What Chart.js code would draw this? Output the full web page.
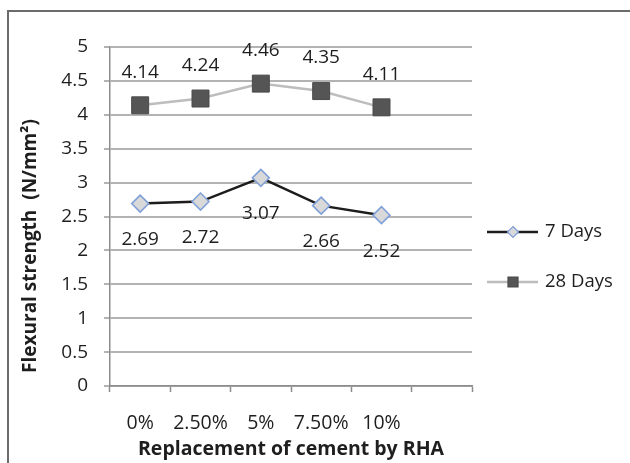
<!DOCTYPE html>
<html>
<head>
<meta charset="utf-8">
<script src="https://cdn.jsdelivr.net/npm/chart.js@4/dist/chart.umd.min.js"></script>
<style>
  html, body { margin: 0; padding: 0; background: #fff; }
  #c { display: block; }
</style>
</head>
<body>
<canvas id="c" width="630" height="463"></canvas>
<script>
// Flexural strength of concrete vs. RHA replacement level
const categories = ['0%', '2.50%', '5%', '7.50%', '10%', ''];
const days7 = [2.69, 2.72, 3.07, 2.66, 2.52, null];
const days28 = [4.14, 4.24, 4.46, 4.35, 4.11, null];
const seriesNames = ['7 Days', '28 Days'];
const yMin = 0, yMax = 5, yStep = 0.5;
const xTitle = 'Replacement of cement by RHA';
const yTitle = 'Flexural strength  (N/mm\u00B2)';

const FONT = '"Open Sans", Lato, sans-serif';
const TEXT = '#1e1e1e';

const extras = {
  id: 'extras',
  beforeDraw(chart) {
    const ctx = chart.ctx;
    ctx.save();
    ctx.fillStyle = '#fff';
    ctx.fillRect(0, 0, chart.width, chart.height);
    ctx.restore();
  },
  afterDatasetsDraw(chart) {
    // value labels: 7 Days below the points, 28 Days above
    const ctx = chart.ctx;
    ctx.save();
    ctx.font = '19px ' + FONT;
    ctx.fillStyle = TEXT;
    ctx.textAlign = 'center';
    ctx.textBaseline = 'middle';
    chart.data.datasets.forEach((ds, di) => {
      const meta = chart.getDatasetMeta(di);
      const dy = di === 0 ? 36 : -33;
      meta.data.forEach((pt, i) => {
        const v = ds.data[i];
        if (v == null) return;
        ctx.fillText(v.toFixed(2), pt.x, pt.y + dy);
      });
    });
    ctx.restore();
  },
  afterDraw(chart) {
    const ctx = chart.ctx;
    ctx.save();
    // chart frame
    ctx.strokeStyle = '#6b6b6b';
    ctx.lineWidth = 2;
    ctx.strokeRect(8, 11, 700, 600);

    // y-axis title
    ctx.font = 'bold 19px ' + FONT;
    ctx.fillStyle = TEXT;
    ctx.textAlign = 'center';
    ctx.textBaseline = 'middle';
    ctx.translate(31, 246);
    ctx.rotate(-Math.PI / 2);
    ctx.fillText(yTitle, 0, 0);
    ctx.restore();

    // legend
    ctx.save();
    const rows = [232, 282];
    chart.data.datasets.forEach((ds, di) => {
      const y = rows[di];
      ctx.strokeStyle = ds.borderColor;
      ctx.lineWidth = ds.borderWidth;
      ctx.beginPath();
      ctx.moveTo(487, y);
      ctx.lineTo(538, y);
      ctx.stroke();
      ctx.fillStyle = ds.pointBackgroundColor;
      ctx.strokeStyle = ds.pointBorderColor;
      ctx.lineWidth = 1.2;
      ctx.beginPath();
      if (ds.pointStyle === 'rectRot') {
        const r = 5.5;
        ctx.moveTo(513, y - r);
        ctx.lineTo(513 + r, y);
        ctx.lineTo(513, y + r);
        ctx.lineTo(513 - r, y);
        ctx.closePath();
      } else {
        ctx.rect(508, y - 5, 10, 10);
      }
      ctx.fill();
      ctx.stroke();
      ctx.font = '18.5px ' + FONT;
      ctx.fillStyle = TEXT;
      ctx.textAlign = 'left';
      ctx.textBaseline = 'middle';
      ctx.fillText(ds.label, 545, y);
    });
    ctx.restore();
  }
};

new Chart(document.getElementById('c'), {
  type: 'line',
  data: {
    labels: categories,
    datasets: [
      {
        label: seriesNames[0],
        data: days7,
        borderColor: '#1c1c1c',
        borderWidth: 2.5,
        pointStyle: 'rectRot',
        pointRadius: 8.5,
        pointHoverRadius: 8.5,
        pointBackgroundColor: '#d9d9d9',
        pointBorderColor: '#7f9fd8',
        pointBorderWidth: 1.5,
        tension: 0,
        fill: false
      },
      {
        label: seriesNames[1],
        data: days28,
        borderColor: '#bdbdbd',
        borderWidth: 2.5,
        pointStyle: 'rect',
        pointRadius: 12,
        pointHoverRadius: 12,
        pointBackgroundColor: '#555555',
        pointBorderColor: '#4a4a4a',
        pointBorderWidth: 1,
        tension: 0,
        fill: false
      }
    ]
  },
  options: {
    responsive: false,
    animation: false,
    events: [],
    layout: { padding: { left: 0, right: 158, top: 47, bottom: 0 } },
    plugins: {
      legend: { display: false },
      tooltip: { enabled: false }
    },
    scales: {
      x: {
        type: 'category',
        offset: true,
        grid: {
          offset: true,
          drawOnChartArea: false,
          drawTicks: true,
          tickLength: 6,
          tickColor: '#8c8c8c',
          tickWidth: 1.5
        },
        border: { display: true, color: '#8c8c8c', width: 1.5 },
        ticks: {
          color: TEXT,
          font: { family: FONT, size: 19.5 },
          padding: 20,
          maxRotation: 0,
          autoSkip: false
        },
        title: {
          display: true,
          text: xTitle,
          color: TEXT,
          font: { family: FONT, size: 19.5, weight: 'bold' },
          padding: { top: 0, bottom: 2 }
        },
        afterFit(scale) { scale.height = 77; }
      },
      y: {
        min: yMin,
        max: yMax,
        grid: {
          color: '#b3b3b3',
          lineWidth: 2,
          drawTicks: true,
          tickLength: 6,
          tickColor: '#b3b3b3'
        },
        border: { display: true, color: '#8c8c8c', width: 1.5 },
        ticks: {
          stepSize: yStep,
          color: TEXT,
          font: { family: FONT, size: 19 },
          padding: 16,
          callback: (v) => String(Number(v))
        },
        afterFit(scale) { scale.width = 110; }
      }
    }
  },
  plugins: [extras]
});
</script>
</body>
</html>
